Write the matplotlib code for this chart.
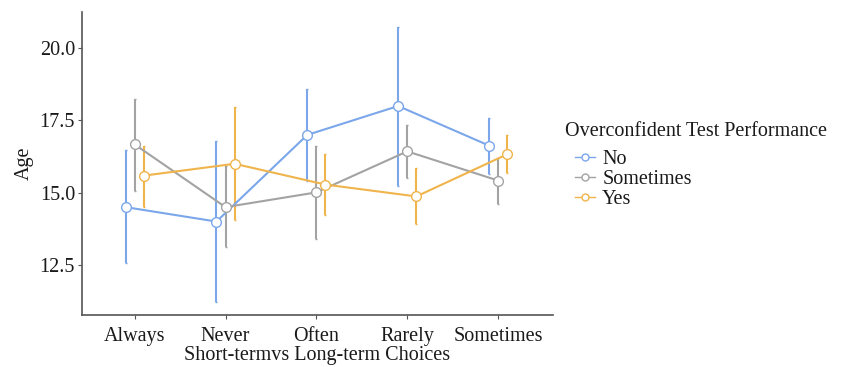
import matplotlib.pyplot as plt
from matplotlib.lines import Line2D
import numpy as np

plt.rcParams['font.family'] = ['Liberation Serif', 'DejaVu Serif']

categories = ['Always', 'Never', 'Often', 'Rarely', 'Sometimes']
groups = ['No', 'Sometimes', 'Yes']
colors = {'No': '#7ba7ea', 'Sometimes': '#a3a3a3', 'Yes': '#f0b44c'}

# mean age with lower / upper interval bounds per group
means = {
    'No':        [14.50, 14.00, 17.00, 18.00, 16.63],
    'Sometimes': [16.67, 14.50, 15.01, 16.43, 15.42],
    'Yes':       [15.59, 16.00, 15.28, 14.87, 16.33],
}
lower = {
    'No':        [12.57, 11.23, 15.39, 15.22, 15.65],
    'Sometimes': [15.07, 13.12, 13.41, 15.51, 14.62],
    'Yes':       [14.52, 14.04, 14.24, 13.92, 15.68],
}
upper = {
    'No':        [16.46, 16.78, 18.60, 20.74, 17.60],
    'Sometimes': [18.25, 15.91, 16.60, 17.35, 16.20],
    'Yes':       [16.63, 17.97, 16.34, 15.85, 16.98],
}

fig = plt.figure(figsize=(8.45, 3.67), dpi=100)
ax = fig.add_axes([0.097, 0.142, 0.557, 0.825])

x = np.arange(len(categories))
offsets = {'No': -0.1, 'Sometimes': 0.0, 'Yes': 0.1}
handles = []
for g in groups:
    m = np.array(means[g])
    err = [m - np.array(lower[g]), np.array(upper[g]) - m]
    ax.errorbar(x + offsets[g], m, yerr=err, color=colors[g], lw=1.5,
                elinewidth=1.5, capsize=1.0, capthick=1.5,
                marker='o', markersize=7, markerfacecolor='white',
                markeredgecolor=colors[g], markeredgewidth=1.0)
    handles.append(Line2D([], [], color=colors[g], lw=1.0, marker='o',
                          markersize=5, markerfacecolor='white',
                          markeredgecolor=colors[g], label=g))

ax.set_xlim(-0.58, 4.6)
ax.set_ylim(10.77, 21.25)
ax.set_yticks([12.5, 15.0, 17.5, 20.0])
ax.set_yticklabels(['12.5', '15.0', '17.5', '20.0'])
ax.set_xticks(x)
ax.set_xticklabels(categories)

for s in ['top', 'right']:
    ax.spines[s].set_visible(False)
for s in ['left', 'bottom']:
    ax.spines[s].set_color('#555555')
    ax.spines[s].set_linewidth(1.2)
ax.tick_params(colors='#555555', labelcolor='#1a1a1a', labelsize=14.5,
               length=3, pad=2)
ax.tick_params(axis='x', pad=5.5)

ax.set_xlabel('Short-termvs Long-term Choices', fontsize=14.5, labelpad=0.5,
              color='#1a1a1a')
ax.set_ylabel('Age', fontsize=14.5, labelpad=4, color='#1a1a1a')

# legend title drawn on its own so the entries sit indented below it
fig.text(565 / 845, 1 - 131 / 367, 'Overconfident Test Performance',
         fontsize=14.5, color='#1a1a1a', ha='left', va='center')
leg = fig.legend(handles=handles, loc='upper left',
                 bbox_to_anchor=(575 / 845, 1 - 150 / 367), frameon=False,
                 fontsize=14.5, handlelength=1.0, handletextpad=0.35,
                 labelspacing=0.05, borderpad=0.0, borderaxespad=0.0)
for t in leg.get_texts():
    t.set_color('#1a1a1a')

fig.savefig('out.png', dpi=100)
